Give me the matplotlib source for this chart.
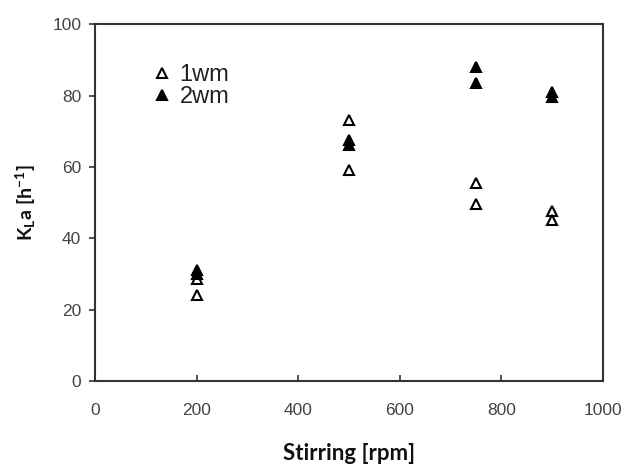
import matplotlib
matplotlib.use("Agg")
import matplotlib.pyplot as plt

# stirring speeds and kLa readings (two runs per speed)
rpm_1wm = [200, 200, 500, 500, 750, 750, 900, 900]
kla_1wm = [28.5, 24.0, 73.0, 59.0, 55.5, 49.5, 47.5, 45.0]
rpm_2wm = [200, 200, 500, 500, 750, 750, 900, 900]
kla_2wm = [31.0, 30.0, 67.5, 66.0, 88.0, 83.5, 81.0, 79.5]
x_ticks = [0, 200, 400, 600, 800, 1000]
y_ticks = [0, 20, 40, 60, 80, 100]

plt.rcParams["font.family"] = ["Liberation Sans", "DejaVu Sans"]
plt.rcParams["mathtext.fontset"] = "custom"
plt.rcParams["mathtext.rm"] = "Lato:bold"
plt.rcParams["mathtext.it"] = "Lato:bold"
plt.rcParams["mathtext.bf"] = "Lato:bold"

fig = plt.figure(figsize=(6.26, 4.65), dpi=100)
ax = fig.add_axes([0.152, 0.181, 0.811, 0.767])

ax.plot(rpm_1wm, kla_1wm, ls="none", marker="^", ms=7.5, mfc="white",
        mec="black", mew=1.5, label="1wm")
ax.plot(rpm_2wm, kla_2wm, ls="none", marker="^", ms=7.5, mfc="black",
        mec="black", mew=1.5, label="2wm")

ax.set_xlim(0, 1000)
ax.set_ylim(0, 100)
ax.set_xticks(x_ticks)
ax.set_yticks(y_ticks)

for s in ax.spines.values():
    s.set_linewidth(1.5)
    s.set_color("#333333")
ax.tick_params(axis="x", direction="in", length=4, width=1.2, colors="#333333",
               labelsize=12.5, labelcolor="#444444", pad=16)
ax.tick_params(axis="y", direction="out", length=4, width=1.2, colors="#333333",
               labelsize=12.5, labelcolor="#444444", pad=6)

ax.set_xlabel("Stirring [rpm]", family="Lato", weight="bold", fontsize=16,
              labelpad=18, color="#111111")
ax.set_ylabel(r"$\mathrm{K_La\ [h^{-1}]}$", fontsize=14, labelpad=10,
              color="#111111")

leg = ax.legend(loc="upper left", bbox_to_anchor=(0.08, 0.935), frameon=False,
                fontsize=17, handlelength=0.8, handletextpad=0.35,
                labelspacing=0.0, borderpad=0.2)
for t in leg.get_texts():
    t.set_color("#222222")

fig.savefig("out.png", dpi=100)
